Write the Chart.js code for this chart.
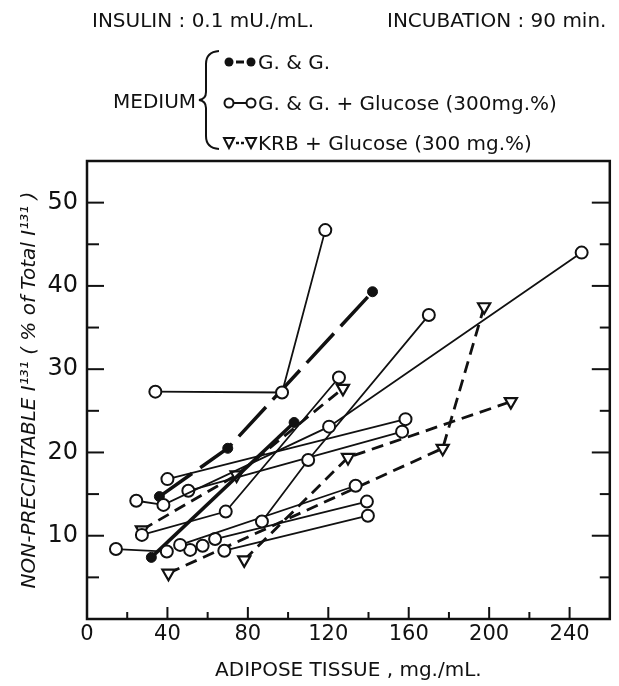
<!DOCTYPE html>
<html>
<head>
<meta charset="utf-8">
<script src="https://cdn.jsdelivr.net/npm/chart.js@4.4.1/dist/chart.umd.min.js"></script>
<style>
  html, body { margin: 0; padding: 0; background: #fff; }
  #wrap { position: relative; width: 619px; height: 686px; font-family: "DejaVu Sans", sans-serif; color: #111; }
  #chart { position: absolute; left: 0; top: 0; }
  #head { position: absolute; left: 0; top: 0; }
  .t { position: absolute; font-size: 20px; line-height: 1; white-space: nowrap; }
</style>
</head>
<body>
<div id="wrap">
  <canvas id="chart" width="619" height="686"></canvas>
  <svg id="head" width="619" height="160">
    <!-- accolade -->
    <path d="M219 51 Q206 52 206 64 L206 92 Q206 99 199 100 Q206 101 206 108 L206 136 Q206 148 219 149" fill="none" stroke="#111" stroke-width="2"/>
    <!-- G&G -->
    <circle cx="229" cy="62" r="4.5" fill="#111"/>
    <circle cx="251" cy="62" r="4.5" fill="#111"/>
    <line x1="236" y1="62" x2="244" y2="62" stroke="#111" stroke-width="3"/>
    <!-- G&G + glucose -->
    <line x1="233" y1="103" x2="247" y2="103" stroke="#111" stroke-width="2"/>
    <circle cx="229" cy="103" r="4.5" fill="#fff" stroke="#111" stroke-width="2"/>
    <circle cx="251" cy="103" r="4.5" fill="#fff" stroke="#111" stroke-width="2"/>
    <!-- KRB + glucose -->
    <path d="M224 138 L234 138 L229 148 Z" fill="#fff" stroke="#111" stroke-width="2"/>
    <path d="M246 138 L256 138 L251 148 Z" fill="#fff" stroke="#111" stroke-width="2"/>
    <line x1="236" y1="143" x2="239" y2="143" stroke="#111" stroke-width="2.5"/>
    <line x1="241" y1="143" x2="244" y2="143" stroke="#111" stroke-width="2.5"/>
  </svg>
  <div class="t" style="left:92px; top:10px;">INSULIN : 0.1 mU./mL.</div>
  <div class="t" style="left:387px; top:10px;">INCUBATION : 90 min.</div>
  <div class="t" style="left:113px; top:91px;">MEDIUM</div>
  <div class="t" style="left:258px; top:52px;">G. &amp; G.</div>
  <div class="t" style="left:258px; top:93px;">G. &amp; G. + Glucose (300mg.%)</div>
  <div class="t" style="left:258px; top:133px;">KRB + Glucose (300 mg.%)</div>
</div>
<script>
// valeurs (mg/mL, %)
// G. & G. (points pleins)
const gg1X = [36, 70, 142];
const gg1Y = [14.7, 20.5, 39.3];
const gg2X = [32, 103];
const gg2Y = [7.4, 23.6];

// G. & G. + Glucose (cercles)
const c1X = [34, 97, 118.5];
const c1Y = [27.3, 27.2, 46.7];
const c2X = [24.5, 38, 120.4, 246];
const c2Y = [14.2, 13.7, 23.1, 44.0];
const c3X = [27.3, 69, 125.3];
const c3Y = [10.1, 12.9, 29.0];
const c4X = [87, 110, 170];
const c4Y = [11.7, 19.1, 36.5];
const c5X = [40, 158.4];
const c5Y = [16.8, 24.0];
const c6X = [50.4, 156.7];
const c6Y = [15.4, 22.5];
const c7X = [46.3, 133.6];
const c7Y = [8.9, 16.0];
const c8X = [63.7, 139.2];
const c8Y = [9.6, 14.1];
const c9X = [68.3, 139.7];
const c9Y = [8.2, 12.4];
const c10X = [14.4, 39.7];
const c10Y = [8.4, 8.1];
const c11X = [51.3, 57.5];
const c11Y = [8.3, 8.8];

// KRB + Glucose (triangles)
const k1X = [78.2, 129.8, 210.8];
const k1Y = [7.1, 19.4, 26.1];
const k2X = [27.3, 74.4, 127.3];
const k2Y = [10.7, 17.3, 27.7];
const k3X = [40.5, 176.9, 197.5];
const k3Y = [5.5, 20.5, 37.5];

const xTicksMajor = [0, 40, 80, 120, 160, 200, 240];
const yTicksMajor = [10, 20, 30, 40, 50];

const ink = '#111';
const font = 'DejaVu Sans';

function pts(xs, ys) {
  return xs.map((x, i) => ({ x: x, y: ys[i] }));
}

const datasets = [];

function circles(xs, ys) {
  datasets.push({
    data: pts(xs, ys), showLine: true,
    borderColor: ink, borderWidth: 1.8,
    pointStyle: 'circle', pointRadius: 6,
    pointBackgroundColor: '#fff', pointBorderColor: ink, pointBorderWidth: 2
  });
}
function dots(xs, ys, dash) {
  datasets.push({
    data: pts(xs, ys), showLine: true,
    borderColor: ink, borderWidth: 3.5, borderDash: dash,
    pointStyle: 'circle', pointRadius: 5,
    pointBackgroundColor: ink, pointBorderColor: ink, pointBorderWidth: 1
  });
}
function triangles(xs, ys) {
  datasets.push({
    data: pts(xs, ys), showLine: true,
    borderColor: ink, borderWidth: 2.8, borderDash: [12, 7],
    pointStyle: 'triangle', pointRotation: 180, pointRadius: 7,
    pointBackgroundColor: '#fff', pointBorderColor: ink, pointBorderWidth: 2.2
  });
}

// les cercles par-dessus
circles(c1X, c1Y); circles(c2X, c2Y); circles(c3X, c3Y); circles(c4X, c4Y);
circles(c5X, c5Y); circles(c6X, c6Y); circles(c7X, c7Y); circles(c8X, c8Y);
circles(c9X, c9Y); circles(c10X, c10Y); circles(c11X, c11Y);
dots(gg1X, gg1Y, [40, 10]);
dots(gg2X, gg2Y, []);
triangles(k1X, k1Y); triangles(k2X, k2Y); triangles(k3X, k3Y);

// cadre et graduations vers l'intérieur
const frame = {
  id: 'frame',
  beforeDatasetsDraw(chart) {
    const { ctx, chartArea: a, scales: { x, y } } = chart;
    ctx.save();
    ctx.strokeStyle = ink;
    ctx.lineWidth = 2.5;
    ctx.strokeRect(a.left, a.top, a.right - a.left, a.bottom - a.top);
    ctx.lineWidth = 2;
    const seg = (x1, y1, x2, y2) => { ctx.beginPath(); ctx.moveTo(x1, y1); ctx.lineTo(x2, y2); ctx.stroke(); };
    x.ticks.forEach(t => {
      if (t.value <= 0 || t.value >= 260) return;
      const px = x.getPixelForValue(t.value);
      seg(px, a.bottom, px, a.bottom - (xTicksMajor.includes(t.value) ? 12 : 7));
    });
    y.ticks.forEach(t => {
      if (t.value <= 0 || t.value >= 55) return;
      const py = y.getPixelForValue(t.value);
      const big = yTicksMajor.includes(t.value);
      seg(a.left, py, a.left + (big ? 17 : 12), py);
      seg(a.right, py, a.right - (big ? 18 : 10), py);
    });
    ctx.restore();
  }
};

new Chart(document.getElementById('chart'), {
  type: 'scatter',
  data: { datasets: datasets },
  options: {
    responsive: false,
    animation: false,
    layout: { padding: { top: 161, right: 8, left: 0, bottom: 0 } },
    plugins: { legend: { display: false }, tooltip: { enabled: false } },
    scales: {
      x: {
        type: 'linear', min: 0, max: 260,
        afterFit(s) { s.height = 67; },
        border: { display: false },
        grid: { display: false, drawTicks: false },
        ticks: {
          stepSize: 20, padding: 3, autoSkip: false, maxRotation: 0, color: ink,
          font: { family: font, size: 21 },
          callback: v => xTicksMajor.includes(v) ? v : ''
        },
        title: {
          display: true, text: 'ADIPOSE TISSUE , mg./mL.', color: ink,
          font: { family: font, size: 20 }, padding: { top: 0, bottom: 3 }
        }
      },
      y: {
        type: 'linear', min: 0, max: 55,
        afterFit(s) { s.width = 87; },
        border: { display: false },
        grid: { display: false, drawTicks: false },
        ticks: {
          stepSize: 5, padding: 9, autoSkip: false, color: ink,
          font: { family: font, size: 24 },
          callback: v => yTicksMajor.includes(v) ? v : ''
        },
        title: {
          display: true, text: 'NON-PRECIPITABLE I\u00b9\u00b3\u00b9 ( % of Total I\u00b9\u00b3\u00b9 )', color: ink,
          font: { family: font, size: 20, style: 'italic' }, padding: { top: 18, bottom: 0 }
        }
      }
    }
  },
  plugins: [frame]
});
</script>
</body>
</html>
